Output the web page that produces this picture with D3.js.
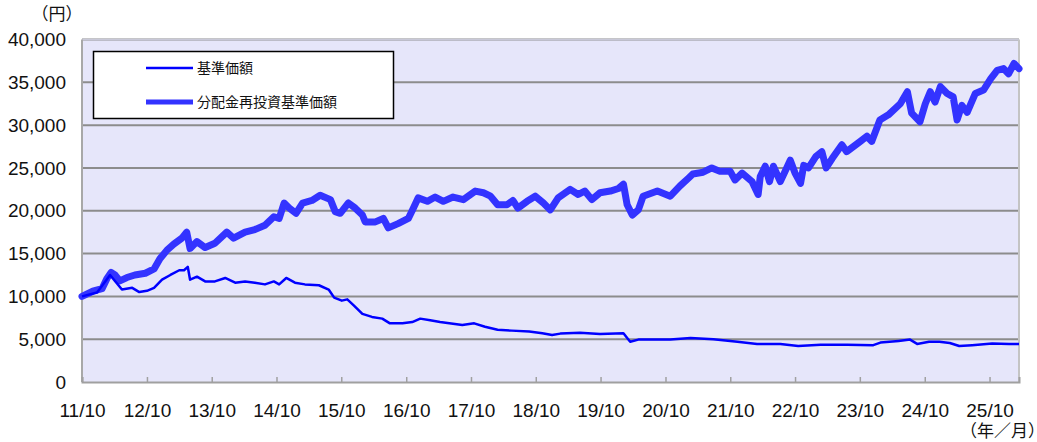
<!DOCTYPE html>
<html>
<head>
<meta charset="utf-8">
<script src="https://cdn.jsdelivr.net/npm/d3@7"></script>
<style>
  body { margin: 0; background: #fff; }
  svg { display: block; }
</style>
</head>
<body>
<svg width="1037" height="442"></svg>
<script>
// 分配金再投資基準価額 (thick line)
var reinvDates = ["2011-10-01","2011-12-01","2012-01-22","2012-02-19","2012-03-13","2012-04-04","2012-05-01","2012-06-10","2012-07-25","2012-09-22",
  "2012-11-10","2012-12-13","2013-01-22","2013-03-01","2013-04-16","2013-05-13","2013-06-01","2013-07-10","2013-08-25","2013-10-19",
  "2013-12-25","2014-02-01","2014-04-07","2014-06-01","2014-07-28","2014-09-16","2014-10-16","2014-11-13","2014-12-13","2015-01-19",
  "2015-02-25","2015-04-19","2015-06-04","2015-08-01","2015-08-28","2015-09-25","2015-11-10","2015-12-19","2016-01-28","2016-02-13",
  "2016-04-10","2016-05-25","2016-06-22","2016-08-16","2016-10-13","2016-11-10","2016-12-07","2017-01-28","2017-03-13","2017-04-28",
  "2017-06-22","2017-08-19","2017-10-25","2017-12-10","2018-01-19","2018-02-28","2018-04-22","2018-05-25","2018-06-22","2018-08-13",
  "2018-09-28","2018-11-13","2018-12-22","2019-02-04","2019-04-13","2019-05-28","2019-07-04","2019-08-13","2019-09-28","2019-11-25",
  "2020-01-10","2020-02-07","2020-02-28","2020-03-28","2020-05-01","2020-05-28","2020-08-16","2020-10-28","2020-12-22","2021-02-07",
  "2021-03-04","2021-05-01","2021-06-19","2021-08-04","2021-10-01","2021-10-28","2021-12-07","2022-02-01","2022-03-07","2022-03-19",
  "2022-04-16","2022-05-10","2022-06-01","2022-07-10","2022-09-04","2022-10-01","2022-11-01","2022-11-19","2022-12-16","2023-01-25",
  "2023-03-01","2023-03-25","2023-04-28","2023-06-22","2023-07-19","2023-10-04","2023-11-10","2023-12-07","2024-01-22","2024-03-10",
  "2024-05-16","2024-06-25","2024-07-19","2024-09-04","2024-10-04","2024-11-01","2024-11-28","2024-12-28","2025-02-04","2025-03-10",
  "2025-04-01","2025-04-28","2025-05-28","2025-07-13","2025-08-28","2025-10-07","2025-11-13","2025-12-19","2026-01-16","2026-02-16",
  "2026-03-16"];
var reinvValues = [10000,10600,10900,12100,12800,12500,11800,12200,12500,12700,
  13200,14400,15400,16100,16800,17500,15600,16400,15700,16200,
  17500,16800,17500,17800,18300,19300,19100,20900,20300,19700,
  20900,21200,21800,21300,19900,19700,20900,20300,19500,18700,
  18700,19100,18000,18500,19100,20300,21500,21100,21600,21100,
  21600,21300,22300,22100,21700,20700,20700,21200,20300,21100,
  21700,20900,20100,21500,22500,21900,22300,21300,22100,22300,
  22600,23100,20700,19500,20100,21700,22300,21700,22900,23800,
  24300,24500,25000,24600,24600,23600,24400,23400,21900,24000,
  25200,23400,25200,23400,25900,24400,23200,25300,25000,26300,
  26900,25000,26100,27700,26900,28100,28700,28100,30600,31200,
  32500,33900,31400,30400,32500,33900,32700,34500,33700,33300,
  30600,32300,31500,33700,34100,35400,36400,36600,36000,37200,
  36600];

// 基準価額 (thin line)
var navDates = ["2011-10-01","2011-12-25","2012-03-07","2012-05-13","2012-07-10","2012-08-19","2012-10-01","2012-11-10","2012-12-25","2013-02-10",
  "2013-04-01","2013-04-28","2013-05-19","2013-06-01","2013-07-10","2013-08-25","2013-10-19","2013-12-16","2014-02-10","2014-04-07",
  "2014-06-01","2014-07-28","2014-09-16","2014-10-16","2014-11-25","2015-01-13","2015-03-10","2015-05-28","2015-07-22","2015-08-22",
  "2015-10-04","2015-11-04","2015-12-13","2016-01-28","2016-03-22","2016-05-19","2016-07-01","2016-09-10","2016-11-04","2016-12-19",
  "2017-02-13","2017-04-10","2017-06-01","2017-08-13","2017-10-19","2017-12-19","2018-02-28","2018-05-19","2018-08-25","2018-11-07",
  "2019-01-01","2019-02-16","2019-06-07","2019-09-28","2020-02-07","2020-03-16","2020-05-01","2020-10-28","2021-02-19","2021-06-28",
  "2021-11-10","2022-03-01","2022-07-10","2022-10-19","2023-02-22","2023-07-22","2023-12-16","2024-01-25","2024-05-07","2024-07-10",
  "2024-08-19","2024-10-25","2024-12-22","2025-02-19","2025-04-13","2025-06-25","2025-10-16","2026-01-19","2026-03-16"];
var navValues = [10000,10450,12500,10800,11000,10500,10650,11000,11950,12500,
  13050,13050,13450,11950,12300,11750,11750,12150,11600,11750,
  11600,11400,11750,11400,12150,11600,11400,11300,10800,9850,
  9500,9650,8900,7950,7600,7400,6850,6850,7000,7400,
  7200,7000,6850,6650,6850,6450,6100,6000,5900,5700,
  5500,5650,5750,5600,5700,4700,4950,4950,5150,5000,
  4700,4450,4450,4200,4350,4350,4300,4600,4800,4950,
  4450,4700,4700,4550,4200,4300,4500,4450,4450];

var yTicks = [0,5000,10000,15000,20000,25000,30000,35000,40000];
var xTickDates = ["2011-10-01","2012-10-01","2013-10-01","2014-10-01","2015-10-01","2016-10-01","2017-10-01",
  "2018-10-01","2019-10-01","2020-10-01","2021-10-01","2022-10-01","2023-10-01","2024-10-01","2025-10-01"];
var xTickLabels = ["11/10","12/10","13/10","14/10","15/10","16/10","17/10","18/10","19/10","20/10",
  "21/10","22/10","23/10","24/10","25/10"];
var seriesNames = ["基準価額","分配金再投資基準価額"];

var parse = d3.timeParse("%Y-%m-%d");
var pLeft = 82, pRight = 1019, pTop = 39.5, pBottom = 382;
var latin = "Arial, 'Liberation Sans', sans-serif";
var jp = "'Noto Sans CJK JP', sans-serif";

var x = d3.scaleTime()
  .domain([parse("2011-10-01"), parse("2026-03-16")])
  .range([pLeft, pRight]);
var y = d3.scaleLinear().domain([0, 40000]).range([pBottom, pTop]);

var svg = d3.select("svg");

// plot background
svg.append("rect")
  .attr("x", pLeft).attr("y", pTop)
  .attr("width", pRight - pLeft).attr("height", pBottom - pTop)
  .attr("fill", "#e6e6fa");

// grid lines
svg.append("g")
  .selectAll("line")
  .data(yTicks.filter(d => d > 0))
  .join("line")
  .attr("x1", pLeft).attr("x2", pRight)
  .attr("y1", d => y(d)).attr("y2", d => y(d))
  .attr("stroke", "#8c8c8c")
  .attr("stroke-width", 2);

// frame
svg.append("line").attr("x1", pLeft).attr("x2", pRight).attr("y1", pTop).attr("y2", pTop)
  .attr("stroke", "#c8c8d8").attr("stroke-width", 1.5);
svg.append("line").attr("x1", pLeft).attr("x2", pLeft).attr("y1", pTop).attr("y2", pBottom)
  .attr("stroke", "#a8a8a8").attr("stroke-width", 2);
svg.append("line").attr("x1", pRight).attr("x2", pRight).attr("y1", pTop).attr("y2", pBottom)
  .attr("stroke", "#c4c4c4").attr("stroke-width", 2);

// y labels
svg.append("g")
  .selectAll("text")
  .data(yTicks)
  .join("text")
  .attr("x", 66)
  .attr("y", d => y(d))
  .attr("dy", "0.35em")
  .attr("text-anchor", "end")
  .attr("font-family", latin)
  .attr("font-size", 19)
  .attr("fill", "#111")
  .text(d => d3.format(",")(d));

// x axis
var xAxis = d3.axisBottom(x)
  .tickValues(xTickDates.map(parse))
  .tickFormat((d, i) => xTickLabels[i])
  .tickSize(-5)
  .tickPadding(22);

var gx = svg.append("g")
  .attr("transform", "translate(0," + pBottom + ")")
  .call(xAxis);
gx.select(".domain").attr("stroke", "#a0a0a0").attr("stroke-width", 2);
gx.selectAll(".tick line").attr("stroke", "#a0a0a0").attr("stroke-width", 1.5);
gx.selectAll(".tick text")
  .attr("font-family", latin)
  .attr("font-size", 19)
  .attr("fill", "#111");

// lines
var line = d3.line()
  .x(d => x(d[0]))
  .y(d => y(d[1]));

var reinv = reinvDates.map((d, i) => [parse(d), reinvValues[i]]);
var nav = navDates.map((d, i) => [parse(d), navValues[i]]);

svg.append("path")
  .datum(reinv)
  .attr("d", line)
  .attr("fill", "none")
  .attr("stroke", "#3333ff")
  .attr("stroke-width", 7)
  .attr("stroke-linejoin", "round")
  .attr("stroke-linecap", "round");

svg.append("path")
  .datum(nav)
  .attr("d", line)
  .attr("fill", "none")
  .attr("stroke", "#0000ff")
  .attr("stroke-width", 2.5)
  .attr("stroke-linejoin", "round");

// legend
var lg = svg.append("g");
lg.append("rect")
  .attr("x", 93.5).attr("y", 51.5)
  .attr("width", 300).attr("height", 67)
  .attr("fill", "#fff")
  .attr("stroke", "#000")
  .attr("stroke-width", 1.5);
lg.append("line").attr("x1", 146).attr("x2", 193).attr("y1", 68).attr("y2", 68)
  .attr("stroke", "#0000ff").attr("stroke-width", 2.5);
lg.append("line").attr("x1", 146).attr("x2", 193).attr("y1", 102).attr("y2", 102)
  .attr("stroke", "#3333ff").attr("stroke-width", 5);
lg.selectAll("text")
  .data(seriesNames)
  .join("text")
  .attr("x", 197)
  .attr("y", (d, i) => 68 + i * 34)
  .attr("dy", "0.36em")
  .attr("font-family", jp)
  .attr("font-size", 14)
  .attr("fill", "#111")
  .text(d => d);

// unit labels
svg.append("text")
  .attr("x", 57).attr("y", 20)
  .attr("text-anchor", "middle")
  .attr("font-family", jp)
  .attr("font-size", 17)
  .attr("fill", "#111")
  .text("（円）");
svg.append("text")
  .attr("x", 960).attr("y", 437)
  .attr("font-family", jp)
  .attr("font-size", 17)
  .attr("fill", "#111")
  .text("（年／月）");
</script>
</body>
</html>
